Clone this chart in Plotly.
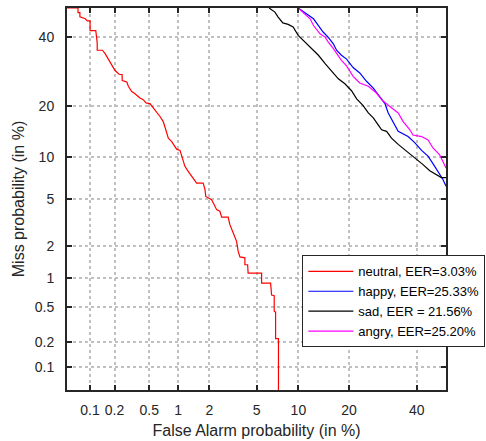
import plotly.graph_objects as go
from statistics import NormalDist

# DET curves, values in % (false alarm, miss)
neutral_fa = [0.05, 0.070, 0.070, 0.074, 0.074, 0.080, 0.087, 0.092, 0.100, 0.100, 0.118, 0.123,
              0.123, 0.143, 0.154, 0.172, 0.194, 0.203, 0.227, 0.246, 0.247, 0.279, 0.291, 0.318,
              0.338, 0.362, 0.394, 0.429, 0.460, 0.508, 0.552, 0.601, 0.651, 0.705, 0.734, 0.796,
              0.862, 0.968, 1.046, 1.087, 1.17, 1.26, 1.34, 1.44, 1.52, 1.75, 1.82, 1.85, 2.09,
              2.21, 2.32, 2.48, 2.57, 2.93, 3.03, 3.23, 3.45, 3.56, 3.68, 4.04, 4.04, 4.25, 4.29,
              5.47, 5.47, 6.39, 6.50, 6.79, 6.79, 6.95, 6.95, 7.29, 7.29]
neutral_miss = [50, 50, 48.4, 48.4, 47.0, 46.7, 46.3, 45.6, 45.6, 42.3, 42.3, 38.2,
                35.8, 35.8, 34.7, 32.6, 30.1, 29.5, 28.4, 28.3, 26.6, 26.2, 25.0, 23.6,
                23.2, 22.5, 21.9, 21.5, 20.7, 20.5, 19.5, 18.3, 17.5, 16.4, 15.4, 13.1,
                12.5, 11.2, 11.0, 10.1, 8.63, 7.96, 7.44, 6.96, 6.58, 6.58, 5.89, 5.23, 4.94,
                4.50, 4.12, 4.00, 3.58, 3.58, 3.10, 2.64, 2.22, 1.80, 1.60, 1.57, 1.35, 1.35, 1.12,
                1.12, 0.89, 0.89, 0.67, 0.66, 0.45, 0.44, 0.22, 0.22, 0.01]

happy_fa = [9.97, 11.3, 12.5, 13.4, 14.3, 15.3, 16.4, 17.1, 18.2, 19.4, 21.0, 22.7, 24.5, 26.4,
            28.3, 29.8, 30.8, 32.3, 33.9, 37.1, 39.3, 41.6, 43.8, 45.5, 47.2, 49.0, 50]
happy_miss = [50, 48.0, 46.3, 44.0, 41.8, 40.1, 37.9, 35.8, 34.2, 33.0, 30.4, 28.8, 26.4, 24.5,
              22.3, 20.5, 18.3, 16.4, 14.4, 13.4, 12.3, 11.0, 10.1, 9.01, 7.92, 6.96, 6.23]

sad_fa = [6.23, 6.87, 7.25, 7.83, 8.53, 9.22, 9.97, 11.0, 12.2, 13.4, 14.7, 16.0, 17.5, 19.0,
          20.6, 21.9, 23.6, 25.0, 26.4, 27.8, 28.8, 30.3, 31.8, 33.9, 36.0, 38.7, 40.4, 42.1,
          44.4, 46.7, 48.4, 50]
sad_miss = [50, 48.6, 46.9, 44.9, 44.4, 43.5, 40.7, 38.6, 36.3, 34.2, 31.6, 29.3, 27.1, 25.7,
            23.8, 21.7, 20.0, 18.3, 17.2, 15.7, 14.7, 14.4, 13.1, 12.0, 11.1, 10.1, 9.56, 8.87,
            8.05, 7.56, 7.20, 7.20]

angry_fa = [9.97, 11.0, 11.9, 12.5, 13.1, 13.7, 14.7, 15.3, 16.4, 17.1, 18.2, 19.4, 21.0, 22.7,
            25.0, 27.3, 28.8, 31.3, 33.9, 35.5, 37.7, 38.7, 41.6, 43.8, 45.5, 47.8, 49.0, 50]
angry_miss = [50, 48.0, 46.3, 44.0, 42.6, 41.2, 40.1, 38.5, 36.3, 34.7, 32.6, 30.9, 27.8, 25.9,
              25.0, 23.2, 21.5, 19.8, 18.3, 16.4, 14.7, 13.7, 13.4, 12.8, 11.4, 10.3, 9.32, 8.41]

tick_vals = [0.1, 0.2, 0.5, 1, 2, 5, 10, 20, 40]
tick_text = ["0.1", "0.2", "0.5", "1", "2", "5", "10", "20", "40"]
axis_lim = [0.05, 50]

nd = NormalDist()


def probit(pct):
    return [nd.inv_cdf(v / 100.0) for v in pct]


series = [
    ("neutral, EER=3.03%", neutral_fa, neutral_miss, "#ff0000"),
    ("happy, EER=25.33%", happy_fa, happy_miss, "#0000ff"),
    ("sad, EER = 21.56%", sad_fa, sad_miss, "#000000"),
    ("angry, EER=25.20%", angry_fa, angry_miss, "#ff00ff"),
]

fig = go.Figure()
for name, fa, miss, col in series:
    fig.add_trace(go.Scatter(x=probit(fa), y=probit(miss), mode="lines", name=name,
                             line=dict(color=col, width=1.2)))

axis_style = dict(
    tickvals=probit(tick_vals), ticktext=tick_text, range=probit(axis_lim),
    showgrid=True, gridcolor="#c0c0c0", griddash="dot", gridwidth=1.5,
    showline=True, linecolor="#262626", linewidth=2, mirror="ticks",
    ticks="inside", ticklen=5, tickwidth=2, tickcolor="#262626",
    zeroline=False, tickfont=dict(size=14, color="#262626"),
)

fig.update_xaxes(**axis_style, ticklabelstandoff=6,
                 title=dict(text="False Alarm probability (in %)", standoff=8,
                            font=dict(size=16, color="#262626")))
fig.update_yaxes(**axis_style, ticklabelstandoff=8,
                 title=dict(text="Miss probability (in %)", standoff=6,
                            font=dict(size=16, color="#262626")))

fig.update_layout(
    width=486, height=441,
    margin=dict(l=67, r=40, t=8, b=51, autoexpand=False),
    plot_bgcolor="white", paper_bgcolor="white",
    font=dict(family="Liberation Sans, Arial, sans-serif", color="#262626"),
    legend=dict(x=0.621, y=0.3524, xanchor="left", yanchor="top",
                bgcolor="white", bordercolor="#262626", borderwidth=1,
                font=dict(size=13, color="#000000"), itemwidth=45, tracegroupgap=0),
)

# page body has a default 8px margin; drop it so the figure sits at the top-left corner
fig.write_html("out.html", config={"displayModeBar": False},
               post_script="document.body.style.margin='0';")
